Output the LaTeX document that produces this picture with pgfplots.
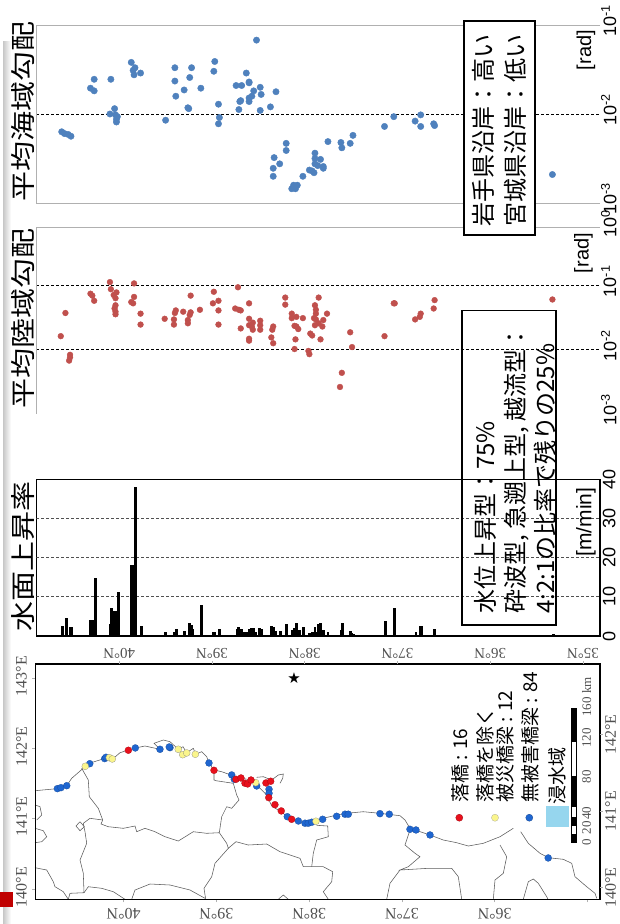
\documentclass[border=0pt]{standalone}
\usepackage{graphicx}
\usepackage{fontspec}
\setmainfont{Liberation Sans}
\newfontfamily\jp{Noto Sans CJK JP}
\newfontfamily\lserif{Liberation Serif}
\newfontfamily\dejavu{DejaVu Sans}
\usepackage{pgfplots}
\usepackage{pgfplotstable}
\pgfplotsset{compat=1.18}
\usetikzlibrary{plotmarks}
\newcommand\fs[1]{\fontsize{#1}{#1}\selectfont}
\definecolor{sblue}{HTML}{4F81BD}
\definecolor{sred}{HTML}{C0504D}
\definecolor{mblue}{HTML}{1F66D0}
\definecolor{mred}{HTML}{E8101C}
\definecolor{myel}{HTML}{FAF58C}
\definecolor{flood}{HTML}{96D6EE}
\definecolor{glin}{HTML}{B0B0B0}
\definecolor{labg}{HTML}{505050}
\definecolor{coast}{HTML}{5A5A5A}
\definecolor{sqred}{HTML}{C00000}

% latitude, log10(gradient in rad)
\pgfplotstableread{
lat e
40.62 -2.20
40.59 -2.22
40.55 -2.23
40.52 -2.25
40.31 -1.71
40.27 -1.74
40.27 -1.61
40.09 -1.61
39.87 -1.42
39.83 -1.48
39.85 -1.51
39.84 -1.56
39.77 -1.54
40.05 -1.94
40.10 -2.00
40.02 -2.03
40.04 -2.01
40.03 -2.06
40.03 -2.09
39.50 -2.07
39.40 -1.48
39.40 -1.63
39.30 -1.73
39.24 -1.59
39.22 -1.48
39.39 -1.80
39.26 -1.93
39.25 -1.94
39.12 -1.71
38.97 -1.41
38.98 -1.52
38.93 -1.89
38.92 -2.04
38.93 -2.11
38.52 -1.17
38.63 -1.54
38.74 -1.68
38.68 -1.68
38.60 -1.64
38.60 -1.65
38.48 -1.70
38.55 -1.74
38.47 -1.78
38.31 -1.75
38.57 -1.80
38.60 -1.82
38.60 -1.86
38.69 -1.85
38.70 -1.86
38.71 -1.95
38.48 -1.96
38.37 -1.92
38.20 -2.33
38.20 -2.41
38.33 -2.49
38.27 -2.56
38.34 -2.61
38.34 -2.70
38.02 -2.70
38.12 -2.80
38.14 -2.84
38.10 -2.84
38.08 -2.80
38.11 -2.82
37.95 -2.63
37.92 -2.64
37.90 -2.66
37.89 -2.44
37.83 -2.51
37.89 -2.50
37.89 -2.56
37.86 -2.58
37.80 -2.59
37.80 -2.61
37.75 -2.31
37.61 -2.32
37.60 -2.38
37.51 -2.33
37.48 -2.24
37.14 -2.14
37.04 -2.03
36.81 -2.08
36.75 -2.01
36.75 -2.14
36.61 -2.11
36.60 -2.13
35.33 -2.68
}\seaslope
\pgfplotstableread{
lat e
40.58 -1.43
40.63 -1.79
40.53 -2.08
40.53 -2.12
40.54 -2.17
40.31 -1.13
40.29 -1.16
40.27 -1.24
40.10 -0.95
40.09 -1.06
40.03 -1.11
40.06 -1.15
40.04 -1.20
40.04 -1.31
40.05 -1.36
40.04 -1.41
40.04 -1.45
39.84 -0.97
39.84 -1.18
39.87 -1.26
39.85 -1.28
39.77 -1.44
39.77 -1.61
39.51 -1.52
39.39 -1.39
39.40 -1.43
39.41 -1.53
39.41 -1.61
39.31 -1.41
39.23 -1.42
39.24 -1.46
39.26 -1.54
39.26 -1.59
39.13 -1.38
39.23 -1.16
38.98 -1.10
38.93 -1.24
38.99 -1.28
38.93 -1.39
38.93 -1.61
38.72 -1.03
38.60 -1.28
38.75 -1.36
38.71 -1.38
38.69 -1.39
38.60 -1.52
38.56 -1.58
38.60 -1.62
38.57 -1.64
38.56 -1.69
38.69 -1.67
38.60 -1.83
38.60 -1.86
38.48 -1.55
38.48 -1.62
38.48 -1.69
38.34 -1.64
38.35 -1.69
38.36 -1.81
38.34 -1.90
38.21 -1.19
38.21 -1.30
38.14 -1.44
38.14 -1.51
38.09 -1.49
38.02 -1.51
38.11 -1.63
38.09 -1.64
38.07 -1.68
38.10 -1.84
38.11 -1.99
37.94 -1.75
37.92 -1.78
37.96 -2.02
37.95 -2.07
37.85 -1.19
37.89 -1.31
37.88 -1.38
37.88 -1.44
37.90 -1.51
37.88 -1.53
37.76 -1.44
37.80 -1.54
37.81 -1.64
37.89 -1.62
37.85 -1.59
37.83 -1.84
37.51 -1.73
37.49 -1.96
37.60 -2.36
37.62 -2.58
37.14 -1.79
37.04 -1.28
37.03 -1.28
36.81 -1.53
36.76 -1.49
36.75 -1.44
36.61 -1.36
36.60 -1.23
35.33 -1.22
}\landslope
% latitude, water rise rate (m/min)
\pgfplotstableread{
lat r
40.61 2.6
40.57 4.5
40.53 2.2
40.51 2.2
40.31 4.1
40.29 4.1
40.26 14.7
40.10 3.1
40.08 7.2
40.05 6.4
40.03 6.4
40.01 11.2
39.87 18.1
39.85 18.1
39.83 38.0
39.82 38.0
39.76 2.5
39.50 1.0
39.40 0.9
39.38 1.7
39.30 1.4
39.24 3.4
39.22 2.8
39.21 1.7
39.11 7.8
38.98 1.1
38.97 1.1
38.92 1.7
38.73 1.8
38.71 2.2
38.68 1.7
38.66 1.1
38.63 0.9
38.60 1.8
38.58 2.0
38.55 2.1
38.53 1.0
38.49 2.0
38.46 1.8
38.36 2.5
38.34 2.2
38.31 1.4
38.26 1.3
38.20 3.1
38.13 1.5
38.11 2.0
38.09 3.4
38.06 1.5
38.01 2.2
37.95 0.7
37.92 0.9
37.89 2.2
37.87 1.1
37.85 3.1
37.83 3.4
37.80 1.5
37.75 1.1
37.61 1.5
37.59 3.4
37.51 1.3
37.49 0.7
37.47 0.5
37.13 3.8
37.03 7.1
36.80 1.1
36.75 2.6
36.74 2.6
36.60 1.7
36.60 1.1
35.32 0.5
}\riserate
% map: latitude, longitude
\pgfplotstableread{
lat lon
40.714 141.427
40.675 141.441
40.613 141.469
40.365 141.782
40.204 141.854
40.190 141.873
39.874 142.006
39.608 141.987
39.500 142.010
39.508 142.020
39.080 141.792
38.835 141.622
38.807 141.560
38.566 141.465
38.433 141.418
38.433 141.361
38.236 141.028
38.117 140.967
38.045 140.935
38.010 140.935
37.973 140.949
37.855 140.991
37.704 141.034
37.614 141.063
37.579 141.063
37.237 141.071
37.137 141.063
36.914 140.849
36.849 140.839
36.698 140.768
35.424 140.441
}\mapblue
\pgfplotstableread{
lat lon
40.413 141.745
40.154 141.868
40.122 141.849
39.411 141.987
39.363 141.910
39.320 141.935
39.227 141.916
38.577 141.512
37.927 140.963
}\mapyellow
\pgfplotstableread{
lat lon
39.949 141.973
39.026 141.688
38.789 141.560
38.735 141.579
38.692 141.504
38.663 141.494
38.627 141.550
38.466 141.508
38.415 141.532
38.436 141.299
38.369 141.199
38.301 141.110
38.189 140.991
}\mapred

\pgfplotsset{
  panel/.style={scale only axis,width=563.7pt,xmin=34.817,xmax=40.894,x dir=reverse,
    axis line style={draw=none},tick style={draw=none},clip=false,
    xtick=\empty,yticklabel pos=right,
    yticklabel style={font=\fs{18},rotate=90,anchor=north,inner sep=0pt,xshift=4pt,yshift=-1pt}},
}
\begin{document}
\begin{tikzpicture}[x=1pt,y=1pt]
\path[use as bounding box] (0,0) rectangle (619pt,924pt);

% coastline and boundaries, in picture pixels
\begin{axis}[at={(0pt,0pt)},anchor=south west,scale only axis,width=619pt,height=924pt,
  xmin=0,xmax=619,ymin=0,ymax=924,y dir=reverse,hide axis,clip=false]
\addplot[coast,line width=0.55pt] coordinates {(35,790.7)(56.7,788.7)(66.7,785.7)(71.7,778.3)(85,766.7)(89.3,763.3)(105,758.3)(112.7,759)(120,752.7)(128.3,750)(135.3,748)(145,746)(160,749.3)(154,743.3)(163.3,740)(170,741.7)(178.3,749.3)(183,746.7)(186.7,752.7)(193.3,748.3)(195.7,754.3)(201.7,751.7)(206.7,756.7)(208.7,762.7)(214,770)(221.7,771.7)(231,775)(235,780)(241.7,778.3)(251.7,780)(256.7,785)(265,793.3)(268.3,798.3)(271.7,806)(281,811.7)(288.3,817.3)(298.3,821.7)(308.3,823.3)(316,821.3)(323.3,818.3)(336.7,815)(346.7,813.3)(363.3,811.7)(380,813.3)(400,815.7)(405,820)(410,828.3)(430,835)(443.3,840)(456.7,842.7)(468.3,846)(483.3,843.3)(500,836.7)(513.3,828.3)};
\addplot[coast,line width=0.55pt] coordinates {(520.7,831.7)(528.3,843.3)(540,853.3)(548.3,857.7)(563.3,859.3)(571.7,863.3)(575,876.7)(586.7,886.7)(595,893.3)(596.7,898.3)};
\addplot[coast,line width=0.55pt] coordinates {(256.7,777.3)(263.3,776.7)(271.7,780)(278.3,775)(283.3,774)(282.7,778.3)(280,783.3)};
\addplot[coast,line width=0.55pt] coordinates {(81.7,768.3)(88.3,780)(89.3,796.7)(98.3,808.3)(102.7,820)(101,824)(108.3,826.7)(123.3,828.3)(135,826)(136.7,831.7)(145,828.3)(155,831.7)(165,836.7)(178.3,841)(193.3,831.7)(206.7,833.3)(219.3,832.7)(226.7,843.3)(228.3,848.3)(236,841.7)(248.3,845)(266.7,844)(280,851.7)(290,855)(300,858.3)(303.3,866.7)(311.7,866.7)(323.3,866.7)(332.7,871.7)(331.7,881.7)(323.3,891.7)(328.3,899.3)};
\addplot[coast,line width=0.55pt] coordinates {(102.7,820)(90,818.3)(83.3,823.3)(85,831.7)(86.7,843.3)(80,860)(83.3,873.3)(84,892.7)(70,893.3)(68.3,899.3)};
\addplot[coast,line width=0.55pt] coordinates {(80,821.7)(76,826)(80,830.7)(84.3,826.7)(80,821.7)};
\addplot[coast,line width=0.55pt] coordinates {(35,867.7)(46.7,870)(53.3,881.7)(55,886.7)(63.3,891.7)(68.3,899.3)};
\addplot[coast,line width=0.55pt] coordinates {(84,892.7)(88.3,886.7)(101.7,888.3)(113.3,891.7)(125,899.3)};
\addplot[coast,line width=0.55pt] coordinates {(131.7,899.3)(135,890)(150,884)(170,885)(190,890)(205,898.3)};
\addplot[coast,line width=0.55pt] coordinates {(35,805)(40,806.7)(41.7,815)(36.7,820)};
\addplot[coast,line width=0.55pt] coordinates {(35,828.3)(43.3,830.7)(46.7,836.7)(41.7,841.7)(35,842.7)};
\addplot[coast,line width=0.55pt] coordinates {(214,771.7)(214,780)(216,780.7)(233.3,783.3)(236.7,795)(239,800)(231.7,808.3)(226.7,806.7)(221.7,816.7)(219.3,832.7)};
\addplot[coast,line width=0.55pt] coordinates {(228.3,848.3)(215,863.3)(211.7,876.7)(204,888.3)(205.7,899.3)};
\addplot[coast,line width=0.55pt] coordinates {(311.7,866.7)(313.3,853.3)(316.7,840)(328.3,836.7)(327.7,826)(316.7,825.3)};
\addplot[coast,line width=0.55pt] coordinates {(400,870)(390,883.3)(386.7,899.3)};
\addplot[coast,line width=0.55pt] coordinates {(278.3,899.3)(283.3,895)(288.3,899.3)};
\addplot[coast,line width=0.55pt] coordinates {(410,830)(405,845)(415,853.3)(420,856.7)(408.3,866.7)(400,870)(428.3,868.3)(451.7,868.3)(458.3,876.7)(461.7,899.3)};
\addplot[coast,line width=0.55pt] coordinates {(500,845)(506.7,856.7)(503.3,873.3)(495,880)(493.3,899.3)};
\addplot[coast,line width=0.55pt] coordinates {(523.3,899.3)(528.3,881.7)(533.3,879)(538.3,883.3)(546.7,896.7)(548,899.3)};
% legend swatches
\addplot[only marks,mark=*,mark size=3.6pt,mark options={fill=mred,draw=mred!60!black,line width=0.2pt}] coordinates {(459.3,817.7)};
\addplot[only marks,mark=*,mark size=3.6pt,mark options={fill=myel,draw=black!40,line width=0.2pt}] coordinates {(495,817.7)};
\addplot[only marks,mark=*,mark size=3.6pt,mark options={fill=mblue,draw=mblue!60!black,line width=0.2pt}] coordinates {(529.3,817.7)};
\end{axis}

% top: mean seabed slope
\begin{axis}[panel,at={(36.3pt,721pt)},anchor=south west,height=178pt,ymin=-3,ymax=-1,
  ytick={-3,-2,-1},yticklabels={10\textsuperscript{-3},10\textsuperscript{-2},10\textsuperscript{-1}}]
\addplot[black,line width=0.7pt,dash pattern=on 3pt off 2pt] coordinates {(40.894,-2)(34.817,-2)};
\addplot[only marks,sblue,mark=*,mark size=3.2pt,mark options={fill=sblue,draw=sblue}] table[x=lat,y=e] {\seaslope};
\draw[glin,line width=0.9pt] (rel axis cs:0,0)--(rel axis cs:1,0) (rel axis cs:0,1)--(rel axis cs:1,1) (rel axis cs:0,0)--(rel axis cs:0,1);
\end{axis}

% middle: mean land slope
\begin{axis}[panel,at={(36.3pt,510pt)},anchor=south west,height=186.3pt,ymin=-3,ymax=-0.104,
  ytick={-3,-2,-1,-0.104},yticklabels={10\textsuperscript{-3},10\textsuperscript{-2},10\textsuperscript{-1},10\textsuperscript{0}}]
\addplot[black,line width=0.7pt,dash pattern=on 3pt off 2pt] coordinates {(40.894,-2)(34.817,-2)};
\addplot[black,line width=0.7pt,dash pattern=on 3pt off 2pt] coordinates {(40.894,-1)(34.817,-1)};
\addplot[only marks,sred,mark=*,mark size=2.9pt,mark options={fill=sred,draw=sred}] table[x=lat,y=e] {\landslope};
\draw[glin,line width=0.9pt] (rel axis cs:0,1)--(rel axis cs:1,1) (rel axis cs:0,0)--(rel axis cs:0,1);
\end{axis}

% water surface rise rate
\begin{axis}[scale only axis,width=563.7pt,xmin=34.817,xmax=40.894,x dir=reverse,
  at={(36.3pt,288pt)},anchor=south west,height=156.7pt,ymin=0,ymax=40,
  axis line style={black,line width=1.1pt},tick style={draw=none},
  xtick={40,39,38,37,36,35},xticklabels={40°N,39°N,38°N,37°N,36°N,35°N},
  xticklabel style={font=\lserif\fs{15},text=labg,rotate=180,anchor=south,inner sep=0pt,yshift=12pt},
  ytick={0,10,20,30,40},yticklabels={0,10,20,30,40},yticklabel pos=right,
  yticklabel style={font=\fs{18},rotate=90,anchor=north,inner sep=0pt,yshift=-2.5pt}]
\addplot[labg,line width=0.8pt,dash pattern=on 3pt off 2pt] coordinates {(40.894,10)(34.817,10)};
\addplot[labg,line width=0.8pt,dash pattern=on 3pt off 2pt] coordinates {(40.894,20)(34.817,20)};
\addplot[labg,line width=0.8pt,dash pattern=on 3pt off 2pt] coordinates {(40.894,30)(34.817,30)};
\addplot[ycomb,black,line width=2.8pt,no marks] table[x=lat,y=r] {\riserate};
\end{axis}

% map
\begin{axis}[scale only axis,width=564.9pt,height=235.3pt,at={(35.1pt,24.7pt)},anchor=south west,
  xmin=34.866,xmax=40.954,x dir=reverse,ymin=139.853,ymax=143.2,
  axis line style={black,line width=1.1pt},clip=false,
  tick style={glin,line width=0.7pt},major tick length=3pt,tick align=outside,
  xtick pos=lower,ytick pos=left,
  xtick={40,39,38,37,36,35},xticklabels={40°N,39°N,38°N,37°N,36°N,{}},
  xticklabel style={font=\lserif\fs{16},text=labg,rotate=180,anchor=south,inner sep=0pt,yshift=6pt},
  ytick={140,141,142,143},yticklabels={140°E,141°E,142°E,143°E},
  yticklabel style={font=\lserif\fs{16},text=labg,rotate=90,anchor=south,inner sep=0pt,xshift=2pt,yshift=5pt}]
\addplot[only marks,mblue,mark=*,mark size=3.5pt,mark options={fill=mblue,draw=mblue!70!black,line width=0.2pt}] table[x=lat,y=lon] {\mapblue};
\addplot[only marks,black!50,mark=*,mark size=3.5pt,mark options={fill=myel,draw=black!50,line width=0.2pt}] table[x=lat,y=lon] {\mapyellow};
\addplot[only marks,mred,mark=*,mark size=3.5pt,mark options={fill=mred,draw=mred!70!black,line width=0.2pt}] table[x=lat,y=lon] {\mapred};
\addplot[only marks,mark=text,text mark={\dejavu\fs{15}★}] coordinates {(38.164,142.997)};
\end{axis}
% second graticule of the map
\begin{axis}[scale only axis,width=564.9pt,height=235.3pt,at={(35.1pt,24.7pt)},anchor=south west,
  xmin=34.817,xmax=40.907,x dir=reverse,ymin=139.848,ymax=142.924,
  axis line style={draw=none},
  tick style={glin,line width=0.7pt},major tick length=3pt,tick align=outside,
  xtick pos=upper,ytick pos=right,yticklabel pos=right,
  xtick={40,39,38,37,36,35},xticklabels={},
  ytick={140,141,142},yticklabels={140°E,141°E,142°E},
  yticklabel style={font=\lserif\fs{16},text=labg,rotate=90,anchor=north,inner sep=0pt,yshift=-2pt}]
\addplot[draw=none] coordinates {(38,141)};
\end{axis}

\begin{scope}[x=1pt,y=-1pt,shift={(0pt,924pt)}]
% left strip and red square
\fill[left color=black!22,right color=white] (3,42) rectangle (11,924);
\fill[sqred] (0,892) rectangle (13,907.5);
% titles
\node[rotate=90,font=\jp\fs{25}] at (23,112) {\scalebox{1.2}[1]{平均海域勾配}};
\node[rotate=90,font=\jp\fs{25}] at (23,319) {\scalebox{1.2}[1]{平均陸域勾配}};
\node[rotate=90,font=\jp\fs{25}] at (23,556.7) {\scalebox{1.2}[1]{水面上昇率}};
% units
\node[rotate=90,font=\fs{20}] at (586,50) {[rad]};
\node[rotate=90,font=\fs{20}] at (583.5,253) {[rad]};
\node[rotate=90,font=\fs{21}] at (586,522) {[m/min]};
% box 1
\draw[black,fill=white,line width=1.1pt] (464,21) rectangle (535,235);
\node[rotate=90,font=\jp\fs{24}] at (483.6,131) {岩手県沿岸：高い};
\node[rotate=90,font=\jp\fs{24}] at (515,131) {宮城県沿岸：低い};
% box 2
\draw[black,line width=1.1pt] (462,310.7) rectangle (556,625);
\node[rotate=90,anchor=west,inner sep=0pt,font=\jp\fs{24}] at (485.6,614) {水位上昇型：75\%};
\node[rotate=90,anchor=west,inner sep=0pt,font=\jp\fs{24}] at (517,614) {砕波型, 急遡上型, 越流型：};
\node[rotate=90,anchor=west,inner sep=0pt,font=\jp\fs{24}] at (545,614) {4:2:1の比率で残りの25\%};
% map legend
\node[rotate=90,anchor=west,inner sep=0pt,font=\jp\fs{19}] at (460,803) {落橋 : 16};
\node[rotate=90,anchor=west,inner sep=0pt,font=\jp\fs{19}] at (485,803) {落橋を除く};
\node[rotate=90,anchor=west,inner sep=0pt,font=\jp\fs{19}] at (505,803) {被災橋梁 : 12};
\node[rotate=90,anchor=west,inner sep=0pt,font=\jp\fs{19}] at (530,803) {無被害橋梁 : 84};
\node[rotate=90,anchor=west,inner sep=0pt,font=\jp\fs{19}] at (557.7,805) {浸水域};
\fill[flood] (545.7,806) rectangle (569.3,827.3);
% scale bar
\draw[black,line width=0.3pt] (570.7,708.3) rectangle (575.7,842.3);
\fill[black] (570.7,834.3) rectangle (575.7,842.3);
\fill[black] (570.7,816.7) rectangle (575.7,826);
\fill[black] (570.7,776) rectangle (575.7,806.7);
\fill[black] (570.7,708.3) rectangle (575.7,742);
\node[rotate=90,font=\lserif\fs{13},text=labg] at (586.7,842.7) {0};
\node[rotate=90,font=\lserif\fs{13},text=labg] at (586.7,828) {20};
\node[rotate=90,font=\lserif\fs{13},text=labg] at (586.7,813.3) {40};
\node[rotate=90,font=\lserif\fs{13},text=labg] at (586.7,776.7) {80};
\node[rotate=90,font=\lserif\fs{13},text=labg] at (586.7,738) {120};
\node[rotate=90,font=\lserif\fs{13},text=labg] at (586.7,697) {160 km};
\end{scope}
\end{tikzpicture}
\end{document}
